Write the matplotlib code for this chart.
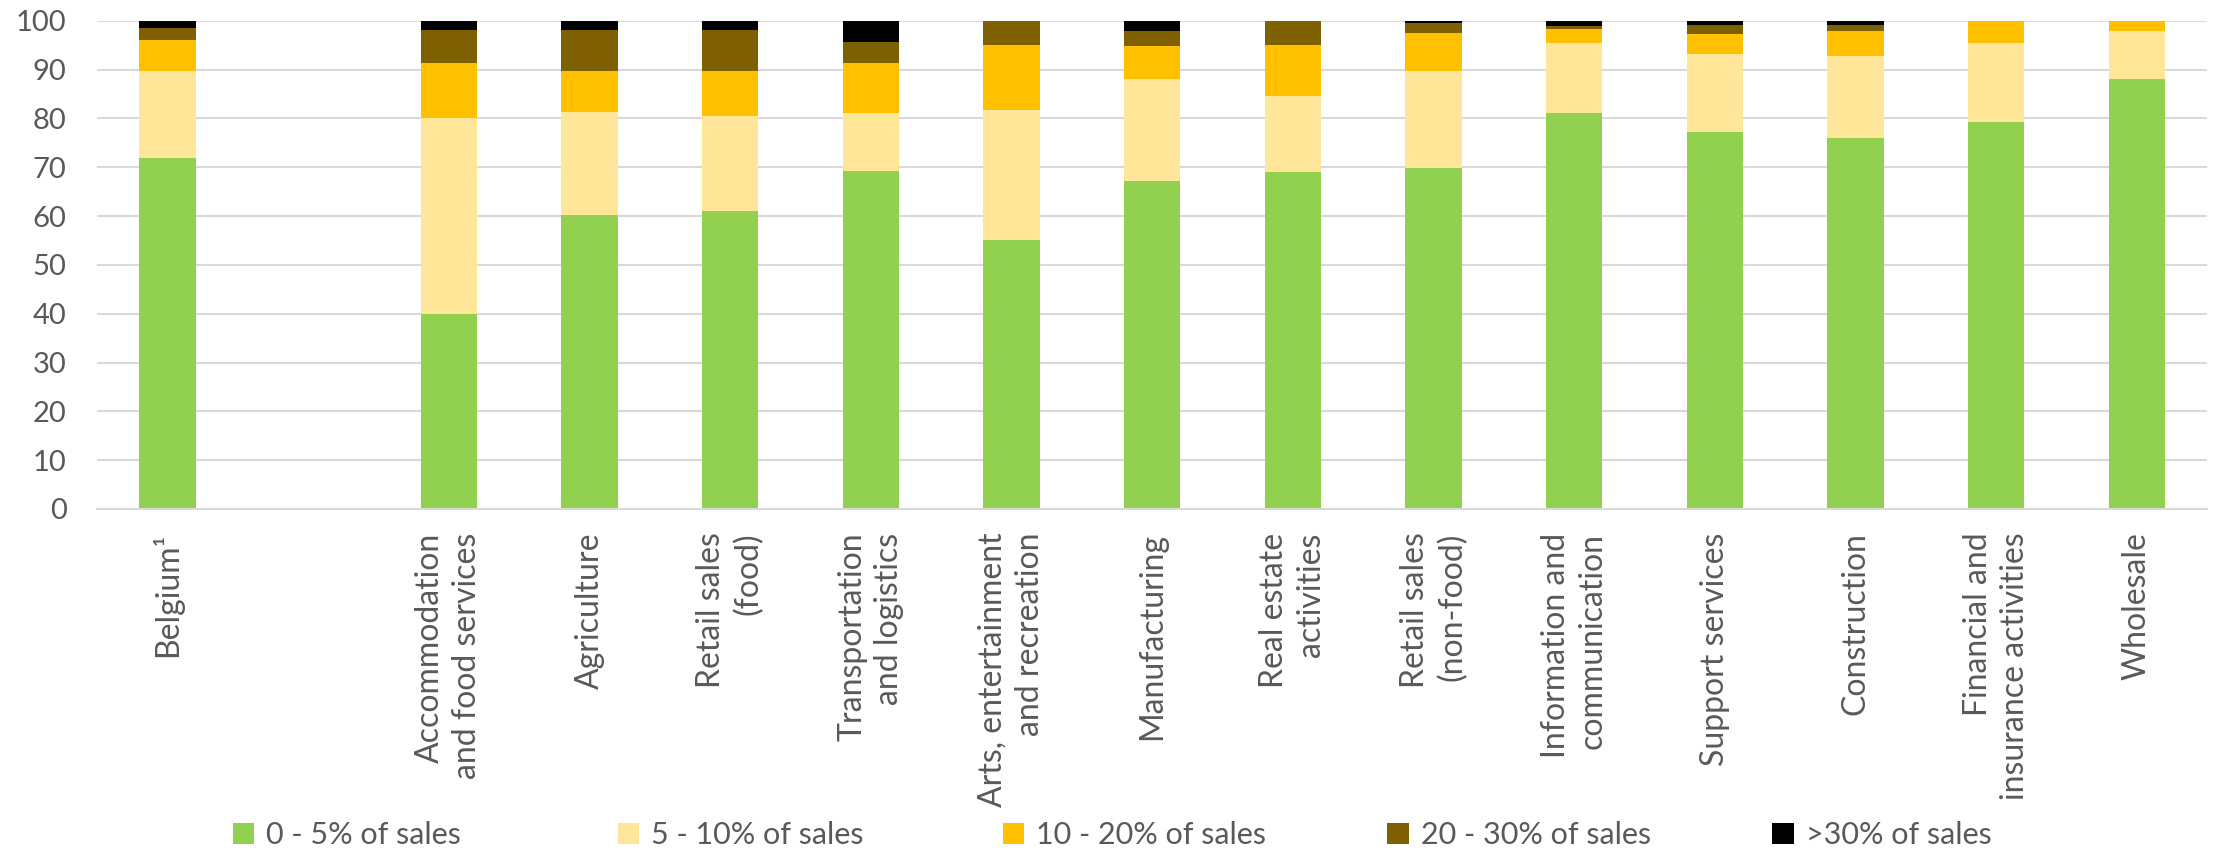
import numpy as np
import matplotlib.pyplot as plt

# Share of firms by expected loss bracket, per sector (percent, stacked to 100)
sectors = ['Belgium¹', '',
           'Accommodation\nand food services', 'Agriculture', 'Retail sales\n(food)',
           'Transportation\nand logistics', 'Arts, entertainment\nand recreation',
           'Manufacturing', 'Real estate\nactivities', 'Retail sales\n(non-food)',
           'Information and\ncommunication', 'Support services', 'Construction',
           'Financial and\ninsurance activities', 'Wholesale']

loss_0_5 = [71.9, 0, 40.0, 60.3, 61.0, 69.3, 55.0, 67.1, 69.0, 69.9, 81.0, 77.3, 75.9, 79.3, 88.0]
loss_5_10 = [17.8, 0, 40.1, 21.0, 19.5, 11.8, 26.7, 20.9, 15.6, 19.7, 14.4, 15.8, 16.8, 16.2, 9.9]
loss_10_20 = [6.3, 0, 11.2, 8.3, 9.1, 10.2, 13.4, 6.9, 10.4, 7.9, 2.9, 4.2, 5.2, 4.5, 2.1]
loss_20_30 = [2.6, 0, 6.8, 8.4, 8.5, 4.4, 4.9, 3.0, 5.0, 2.1, 0.7, 1.9, 1.2, 0, 0]
loss_30 = [1.4, 0, 1.9, 2.0, 1.9, 4.3, 0, 2.1, 0, 0.8, 1.0, 0.8, 1.3, 0, 0]

series = [loss_0_5, loss_5_10, loss_10_20, loss_20_30, loss_30]
labels = ['0 - 5% of sales', '5 - 10% of sales', '10 - 20% of sales',
          '20 - 30% of sales', '>30% of sales']
colors = ['#92D050', '#FFE699', '#FFC000', '#7F6000', '#000000']

plt.rcParams['font.family'] = ['Lato', 'DejaVu Sans']
txt = '#595959'

fig = plt.figure(figsize=(22.16, 8.52), dpi=100)
ax = fig.add_axes([0.0438, 0.4026, 0.9522, 0.5731])

x = np.arange(len(sectors))
bottom = np.zeros(len(sectors))
bars = []
for vals, lab, col in zip(series, labels, colors):
    vals = np.array(vals)
    bars.append(ax.bar(x, vals, 0.4, bottom=bottom, color=col, label=lab, zorder=2))
    bottom += vals

ax.set_xlim(-0.5, len(sectors) - 0.5)
ax.set_ylim(0, 100)
ax.set_yticks(np.arange(0, 101, 10))
ax.grid(axis='y', color='#d9d9d9', linewidth=1.5, zorder=0)
ax.tick_params(axis='y', length=0, labelsize=21, labelcolor=txt, pad=22)
ax.tick_params(axis='x', length=0, pad=17)
ax.set_xticks(x)
ax.set_xticklabels(sectors, rotation=90, ha='center', va='top',
                   multialignment='right', fontsize=23, color=txt,
                   linespacing=1.3)
for s in ['top', 'right', 'left']:
    ax.spines[s].set_visible(False)
ax.spines['bottom'].set_color('#d9d9d9')
ax.spines['bottom'].set_linewidth(1.5)

# legend entries on an even grid along the bottom
for i, (b, lab) in enumerate(zip(bars, labels)):
    fig.legend([b], [lab], loc='center left', bbox_to_anchor=(0.105 + i * 0.1737, 0.02),
               frameon=False, fontsize=22, labelcolor=txt, handlelength=0.7,
               handleheight=0.7, handletextpad=0.4, borderpad=0, borderaxespad=0)

fig.savefig('out.png', dpi=100)
